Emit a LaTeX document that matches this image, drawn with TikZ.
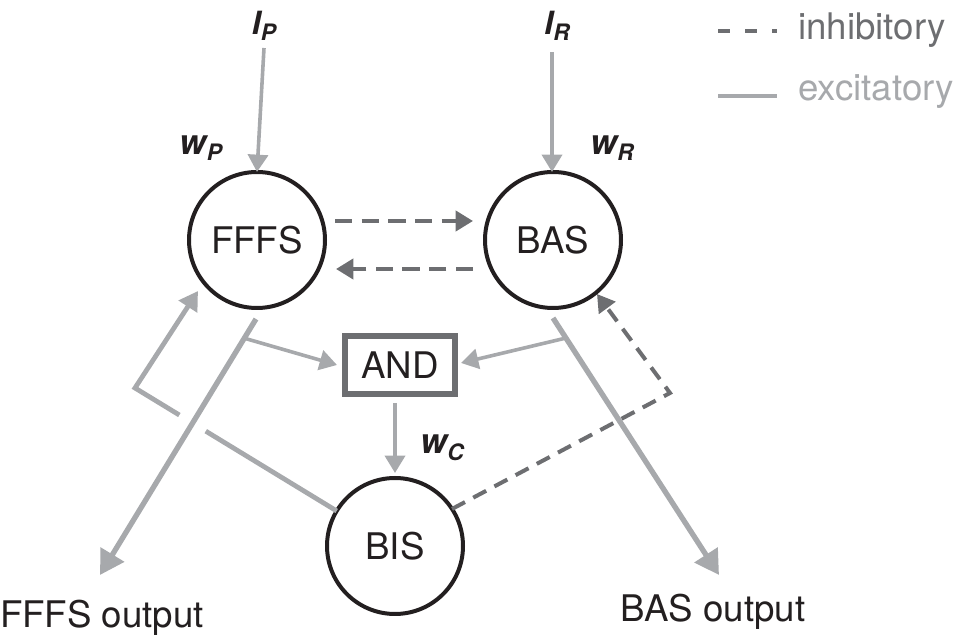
\documentclass[tikz,border=0pt]{standalone}
\usepackage{fontspec}
\setmainfont{TeX Gyre Heros}
\usetikzlibrary{arrows.meta,calc}
\definecolor{exc}{RGB}{167,169,172}
\definecolor{inh}{RGB}{109,110,113}
\definecolor{ink}{RGB}{35,31,32}
\newcommand\wlab[2]{{\bfseries\itshape\fontsize{26}{26}\selectfont #1\raisebox{-5pt}{\fontsize{17}{17}\selectfont #2}}}
\newcommand\ilab[2]{{\bfseries\itshape\fontsize{24}{24}\selectfont #1\raisebox{-5pt}{\fontsize{17}{17}\selectfont #2}}}
\begin{document}
\begin{tikzpicture}[x=0.75pt,y=-0.75pt,
  unit/.style={circle,draw=ink,line width=3pt,minimum size=102pt,inner sep=0pt,outer sep=0pt,text=ink,font=\fontsize{27.5}{27.5}\selectfont},
  gate/.style={rectangle,draw=inh,line width=4.5pt,minimum width=82.5pt,minimum height=43.5pt,inner sep=0pt,outer sep=0pt,fill=white,text=ink,font=\fontsize{27.5}{27.5}\selectfont},
  exin/.style={draw=exc,line width=2.7pt,-{Triangle[length=13pt,width=15pt]}},
  exfb/.style={draw=exc,line width=3.6pt,-{Triangle[length=14pt,width=16pt]}},
  exout/.style={draw=exc,line width=4pt,-{Triangle[length=18pt,width=20pt]}},
  inar/.style={draw=inh,line width=3pt,dash pattern=on 13pt off 7pt,-{Triangle[length=13pt,width=15pt]}},
  lbl/.style={text=ink,font=\fontsize{27.5}{27.5}\selectfont,inner sep=0pt},
  wl/.style={text=ink,inner sep=0pt},
]
\useasboundingbox (0,0) rectangle (958,641);

% nodes
\node[unit] (fffs) at (257,240) {FFFS};
\node[unit] (bas) at (553,240) {BAS};
\node[unit] (bis) at (395,546) {BIS};
\node[gate] (and) at (400,365) {AND};

% labels
\node[wl] (ip) at (264,26) {\ilab{I}{P}};
\node[wl] (ir) at (557,26) {\ilab{I}{R}};
\node[wl] (wp) at (201,148) {\wlab{w}{P}};
\node[wl] (wr) at (612,148) {\wlab{w}{R}};
\node[wl] (wc) at (442,448) {\wlab{w}{C}};
\node[lbl] (fo) at (102,618) {FFFS output};
\node[lbl] (bo) at (713,612) {BAS output};

% legend
\coordinate (li1) at (718,31);
\coordinate (li2) at (777,31);
\coordinate (le1) at (718,96);
\coordinate (le2) at (777,96);
\node[anchor=west,inner sep=0pt,text=inh,font=\fontsize{27.5}{27.5}\selectfont] (leginh) at (798,30) {inhibitory};
\node[anchor=west,inner sep=0pt,text=exc,font=\fontsize{27.5}{27.5}\selectfont] (legexc) at (798,92) {excitatory};
\draw[draw=inh,line width=2.6pt,dash pattern=on 9pt off 11.25pt] (li1) -- (li2);
\draw[draw=exc,line width=3pt] (le1) -- (le2);

% inputs
\draw[exin] (ip.south |- 0,48) -- (fffs.north);
\draw[exin] ($(bas.north)+(-1,-120)$) -- ($(bas.north)+(-1,0)$);

% mutual inhibition
\draw[inar] ($(fffs.center)+(78,-19)$) -- ($(bas.center)+(-80,-19)$);
\draw[inar] ($(bas.center)+(-80,29)$) -- ($(fffs.center)+(79,29)$);

% BIS feedback to FFFS (excitatory)
\coordinate (fbc) at (135,388);
\coordinate (fbt) at (198,291);
\draw[exfb] (bis.149) -- (fbc) -- (fbt);

% BIS feedback to BAS (inhibitory)
\coordinate (dbc) at (670,393);
\coordinate (dbt) at (597,294);
\draw[draw=inh,line width=3pt,dash pattern=on 11pt off 7pt,-{Triangle[length=13pt,width=15pt]}] (bis.33) -- (dbc) -- (dbt);

% outputs
\coordinate (fo0) at ($(fffs.south)+(-1,11)$);
\coordinate (fout) at (100,575);
\coordinate (bo0) at ($(bas.south)+(0,10)$);
\coordinate (bout) at (719,575);
\path (fo0) -- (fout) coordinate[pos=0.075] (fbr) coordinate[pos=0.383] (gapA) coordinate[pos=0.443] (gapB);
\path (bo0) -- (bout) coordinate[pos=0.078] (bbr);
\draw[white,line width=23pt] (gapA) -- (gapB);
\draw[exout] (fo0) -- (fout);
\draw[exout] (bo0) -- (bout);

% to AND
\draw[exin] (fbr) -- ($(and.west)+(-8,0)$);
\draw[exin] (bbr) -- ($(and.east)+(6,-2)$);
\draw[exin] ($(and.south -| bis.north)+(0,9)$) -- ($(bis.north)+(0,-5)$);
\end{tikzpicture}
\end{document}
